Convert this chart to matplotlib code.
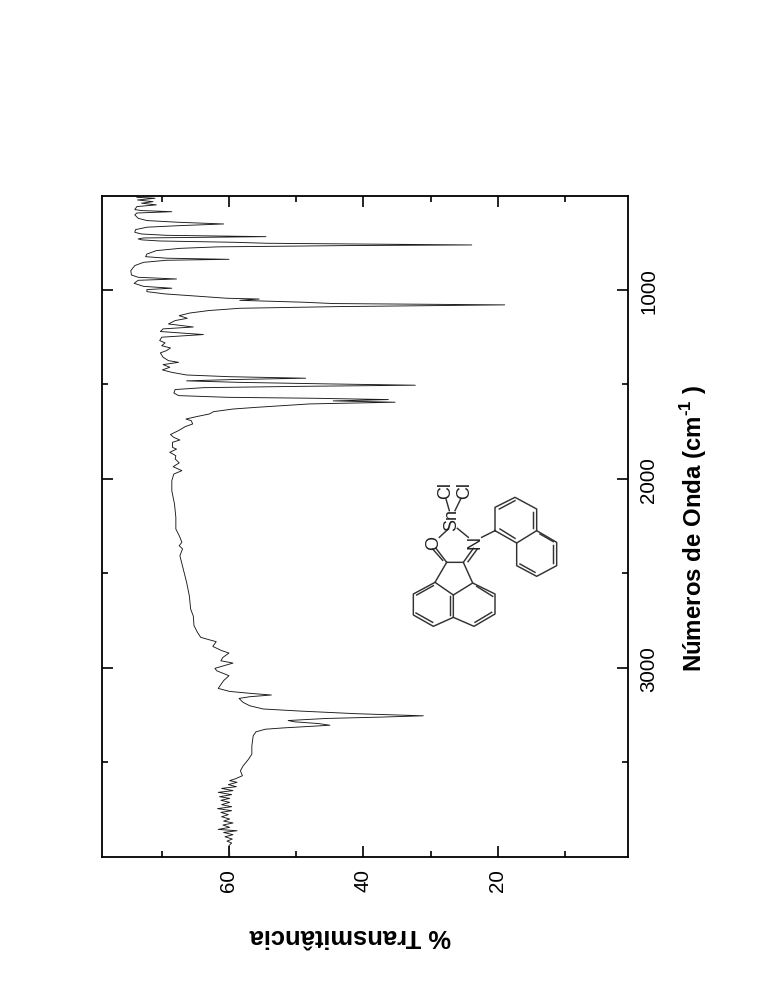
"""
IR spectrum of the Sn complex, page turned on its side
"""
import matplotlib
matplotlib.use("Agg")
import matplotlib.pyplot as plt
from matplotlib.lines import Line2D
from matplotlib.ticker import FixedLocator
from matplotlib.transforms import Affine2D

plt.rcParams["font.family"] = ["Liberation Sans", "DejaVu Sans"]
plt.rcParams["mathtext.fontset"] = "custom"
plt.rcParams["mathtext.bf"] = "Liberation Sans:bold"
plt.rcParams["mathtext.rm"] = "Liberation Sans:bold"

wavenumber = [
    503, 510, 515, 524, 533, 541, 550, 559, 575, 580,
    586, 593, 603, 621, 633, 642, 651, 660, 668, 681,
    695, 704, 711, 718, 725, 730, 735, 741, 748, 753,
    762, 765, 772, 780, 792, 810, 824, 832, 838, 843,
    854, 871, 898, 921, 933, 942, 949, 965, 981, 991,
    998, 1009, 1021, 1034, 1044, 1048, 1055, 1065, 1072, 1079,
    1088, 1097, 1109, 1122, 1136, 1150, 1162, 1180, 1196, 1206,
    1220, 1236, 1250, 1268, 1280, 1295, 1307, 1321, 1333, 1356,
    1374, 1383, 1395, 1409, 1423, 1436, 1450, 1459, 1467, 1474,
    1481, 1489, 1497, 1504, 1510, 1517, 1527, 1545, 1559, 1568,
    1573, 1580, 1587, 1594, 1603, 1612, 1621, 1630, 1644, 1656,
    1670, 1683, 1692, 1709, 1723, 1744, 1765, 1780, 1794, 1806,
    1833, 1842, 1859, 1877, 1894, 1915, 1935, 1956, 1974, 2009,
    2062, 2133, 2203, 2265, 2300, 2335, 2353, 2370, 2406, 2476,
    2547, 2617, 2688, 2726, 2776, 2811, 2838, 2847, 2861, 2886,
    2908, 2921, 2944, 2962, 2974, 2992, 3002, 3015, 3041, 3067,
    3108, 3124, 3135, 3143, 3152, 3161, 3182, 3200, 3217, 3228,
    3242, 3249, 3253, 3260, 3267, 3278, 3285, 3294, 3303, 3310,
    3317, 3324, 3338, 3359, 3412, 3456, 3483, 3518, 3544, 3570,
    3587, 3596, 3605, 3617, 3628, 3637, 3649, 3658, 3670, 3681,
    3690, 3700, 3711, 3723, 3734, 3744, 3755, 3764, 3776, 3787,
    3799, 3810, 3820, 3831, 3843, 3854, 3861, 3870, 3882, 3893,
    3905, 3916, 3926, 3940, 3976, 4000,
]
transmittance = [
    73.7, 73.7, 71.0, 73.6, 71.3, 73.0, 70.8, 73.7, 74.0, 73.0,
    68.5, 73.7, 74.0, 73.5, 72.2, 67.5, 60.8, 67.5, 72.2, 73.9,
    74.0, 73.0, 69.3, 54.5, 72.7, 73.5, 73.0, 70.3, 59.1, 54.4,
    23.9, 41.5, 61.6, 67.3, 70.8, 72.2, 72.4, 69.3, 60.0, 69.3,
    72.7, 74.0, 74.6, 74.5, 73.5, 67.8, 73.5, 74.1, 72.7, 68.5,
    72.2, 72.2, 69.5, 64.3, 60.3, 55.5, 58.4, 48.9, 44.5, 19.0,
    43.5, 58.4, 63.0, 65.8, 67.4, 66.2, 68.0, 69.0, 65.3, 69.8,
    70.2, 63.8, 70.0, 70.3, 69.5, 70.0, 68.7, 69.3, 70.2, 69.8,
    69.0, 67.5, 69.8, 68.8, 69.9, 68.5, 66.3, 59.9, 48.6, 59.4,
    66.3, 58.4, 45.5, 32.3, 49.4, 63.8, 68.0, 68.2, 67.5, 60.3,
    47.5, 36.3, 44.5, 35.3, 48.0, 51.9, 55.9, 59.4, 62.3, 62.9,
    64.8, 66.4, 65.6, 65.4, 66.5, 67.5, 68.7, 68.2, 67.3, 68.4,
    68.4, 67.8, 68.8, 67.9, 68.0, 67.4, 68.3, 67.0, 68.2, 68.5,
    68.5, 68.1, 67.9, 67.9, 67.4, 67.0, 67.4, 66.9, 67.3, 66.8,
    66.3, 65.9, 65.7, 65.3, 65.2, 64.7, 64.2, 63.3, 61.9, 62.4,
    61.1, 60.0, 60.9, 61.2, 59.4, 61.1, 62.1, 61.8, 60.0, 60.8,
    61.6, 59.9, 56.6, 53.7, 56.9, 58.5, 57.9, 56.9, 54.9, 49.4,
    41.0, 35.0, 31.1, 37.5, 45.5, 51.2, 50.2, 46.7, 45.0, 48.5,
    51.9, 54.6, 56.0, 56.4, 56.6, 56.6, 57.1, 57.9, 58.3, 58.0,
    59.1, 59.9, 58.8, 60.1, 58.9, 61.1, 59.4, 61.6, 59.6, 61.4,
    59.9, 61.2, 59.9, 61.1, 59.6, 61.7, 59.6, 61.2, 60.1, 61.1,
    59.9, 60.8, 59.4, 60.9, 59.9, 61.6, 58.8, 60.8, 59.4, 60.6,
    59.5, 60.3, 59.6, 60.0, 59.9, 59.9,
]

wavenumber_major = [1000, 2000, 3000]
wavenumber_minor = [1500, 2500, 3500]
transmittance_major = [20, 40, 60]
transmittance_minor = [10, 30, 50, 70]

# structure drawing, in pixels of the crop (origin 400,470, 3x)
rings = [
    [(140, 280), (190, 280), (218, 342), (160, 378), (105, 340), (140, 280)],
    [(105, 340), (40, 375), (40, 438), (100, 472), (160, 445), (160, 378)],
    [(218, 342), (285, 375), (285, 435), (222, 472), (160, 445)],
    [(285, 185), (285, 115), (345, 85), (410, 120), (410, 185), (350, 222), (285, 185)],
    [(410, 185), (470, 220), (470, 290), (410, 322), (350, 290), (350, 222)],
]
bonds = [
    [(50, 378), (100, 350)], [(48, 432), (98, 460)], [(150, 382), (150, 438)],
    [(230, 352), (278, 382)], [(275, 430), (225, 460)],
    [(140, 280), (108, 238)], [(128, 274), (98, 240)],
    [(190, 280), (220, 238)], [(204, 278), (232, 240)],
    [(118, 205), (145, 180)], [(205, 205), (172, 178)],
    [(148, 125), (138, 90)], [(165, 125), (182, 90)],
    [(245, 205), (285, 185)],
    [(298, 120), (345, 95)], [(398, 128), (398, 178)], [(300, 180), (345, 208)],
    [(420, 195), (460, 218)], [(460, 228), (460, 282)], [(405, 310), (360, 285)],
]
atoms = [("O", 100, 220), ("N", 226, 218), ("Sn", 155, 150), ("Cl", 138, 62), ("Cl", 195, 62)]


def draw_structure(fig):
    """
    Draw the molecule in figure pixels
    """
    crop = (Affine2D().scale(1 / 3).translate(400, 470)
            .scale(1 / 757, -1 / 1003).translate(0, 1) + fig.transFigure)
    for path in rings + bonds:
        xs = [p[0] for p in path]
        ys = [p[1] for p in path]
        fig.add_artist(Line2D(xs, ys, transform=crop, color="#333333", lw=1.05))
    for name, x, y in atoms:
        fig.text(x, y, name, transform=crop, rotation=90, ha="center",
                 va="center", fontsize=13, color="#222222")


def main():
    fig = plt.figure(figsize=(7.57, 10.03), dpi=100)
    ax = fig.add_axes([102 / 757, 1 - 858 / 1003, 526 / 757, 661 / 1003])
    ax.plot(transmittance, wavenumber, color="#1a1a1a", lw=0.65)
    ax.set_xlim(78.88, 0.67)
    ax.set_ylim(4000, 503)

    ax.xaxis.set_major_locator(FixedLocator(transmittance_major))
    ax.xaxis.set_minor_locator(FixedLocator(transmittance_minor))
    ax.yaxis.set_major_locator(FixedLocator(wavenumber_major))
    ax.yaxis.set_minor_locator(FixedLocator(wavenumber_minor))
    ax.tick_params(which="major", direction="in", length=8, width=1.2,
                   top=True, bottom=True, left=True, right=True,
                   labelleft=False, labelright=True, labelsize=14.8)
    ax.tick_params(which="minor", direction="in", length=4, width=1.2,
                   top=True, bottom=True, left=True, right=True)
    ax.tick_params(axis="x", which="major", pad=8)
    ax.tick_params(axis="y", which="major", pad=8)
    for label in ax.get_xticklabels():
        label.set_rotation(90)
        label.set_va("top")
        label.set_ha("center")
    for label in ax.get_yticklabels():
        label.set_rotation(90)
        label.set_va("center")
        label.set_ha("left")
    for spine in ax.spines.values():
        spine.set_linewidth(1.3)

    ax.set_xlabel("% Transmitância", fontsize=18.4, fontweight="bold",
                  rotation=180, va="center", ha="center")
    ax.xaxis.set_label_coords(0.473, -0.118)
    ax.yaxis.set_label_position("right")
    ax.set_ylabel("Números de Onda (cm$^{\\mathbf{\u2010 1}}$ )", fontsize=17.3,
                  fontweight="bold", rotation=90, va="center", ha="center")
    ax.yaxis.set_label_coords(1.125, 0.499)

    draw_structure(fig)
    fig.savefig("out.png", dpi=100)


if __name__ == "__main__":
    main()
